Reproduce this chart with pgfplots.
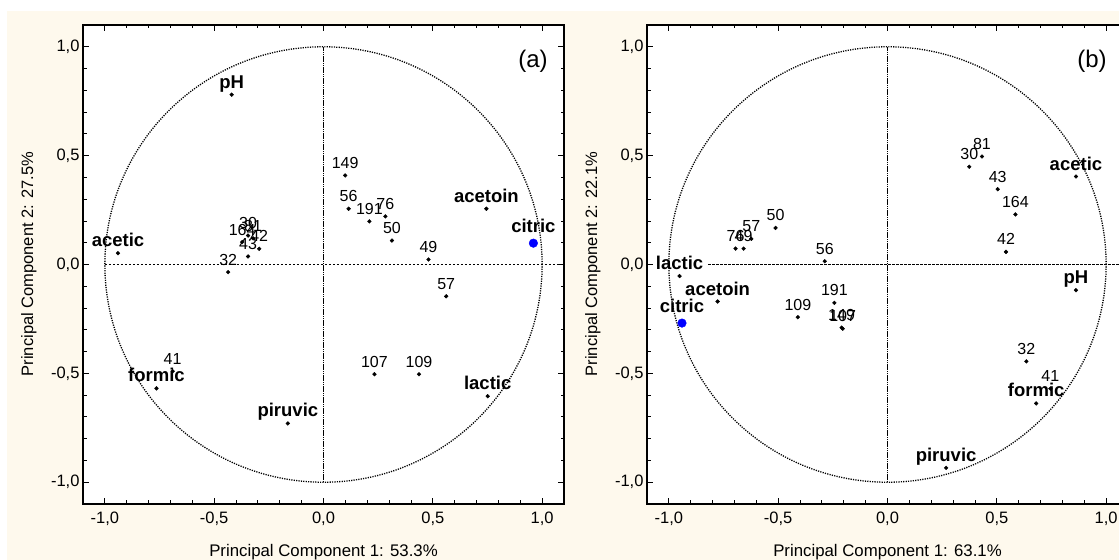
\documentclass[border=0pt]{standalone}
\usepackage{pgfplots}
\usepackage{pgfplotstable}
\pgfplotsset{compat=1.18}
\usepackage{fontspec}
\setmainfont{Liberation Sans}
\definecolor{cream}{RGB}{254,249,237}
\definecolor{pblue}{RGB}{0,0,255}

% ---------- panel (a) ----------
\pgfplotstableread{
x y label
-0.42 0.78 pH
-0.94 0.052 acetic
0.745 0.256 acetoin
0.751 -0.605 lactic
-0.764 -0.569 formic
-0.163 -0.73 piruvic
}\varsA
\pgfplotstableread{
x y label
0.96 0.098 citric
}\citA
\pgfplotstableread{
x y label
-0.372 0.103 164
-0.345 0.133 30
-0.322 0.120 81
-0.345 0.037 43
-0.294 0.072 42
-0.436 -0.035 32
0.099 0.409 149
0.115 0.256 56
0.21 0.198 191
0.283 0.221 76
0.313 0.110 50
0.48 0.023 49
0.561 -0.146 57
0.233 -0.504 107
0.437 -0.504 109
-0.69 -0.49 41
}\casesA

% ---------- panel (b) ----------
\pgfplotstableread{
x y label
-0.951 -0.053 lactic
-0.777 -0.17 acetoin
0.862 0.404 acetic
0.862 -0.118 pH
0.68 -0.638 formic
0.268 -0.934 piruvic
}\varsB
\pgfplotstableread{
x y label
-0.94 -0.269 citric
}\citB
\pgfplotstableread{
x y label
-0.695 0.073 76
-0.658 0.073 49
-0.623 0.118 57
-0.512 0.168 50
-0.287 0.015 56
-0.243 -0.176 191
-0.41 -0.242 109
-0.205 -0.295 107
-0.21 -0.29 149
0.374 0.449 30
0.432 0.496 81
0.504 0.346 43
0.585 0.23 164
0.542 0.058 42
0.635 -0.445 32
0.745 -0.57 41
}\casesB

\tikzset{
  vline/.style={line width=1.6bp, dash pattern=on 1.6bp off 0.6bp},
  hline/.style={line width=1.2bp, dash pattern=on 2.6bp off 1.4bp},
  ucirc/.style={line width=1.3bp, dash pattern=on 1.2bp off 1.2bp},
}

\pgfplotsset{
  pcastyle/.style={
    scale only axis, width=481bp, height=479bp,
    xmin=-1.1, xmax=1.1, ymin=-1.1, ymax=1.1,
    xtick={-1,-0.5,0,0.5,1}, ytick={-1,-0.5,0,0.5,1},
    xticklabels={{-1,0},{-0,5},{0,0},{0,5},{1,0}},
    yticklabels={{-1,0},{-0,5},{0,0},{0,5},{1,0}},
    minor tick num=4,
    tick align=inside,
    major tick length=6bp, minor tick length=3.5bp,
    every tick/.style={black, line width=0.9bp},
    axis line style={line width=1.4bp, black},
    axis background/.style={fill=white},
    tick label style={font=\fontsize{16.5bp}{18bp}\selectfont, black},
    xticklabel style={yshift=-4bp},
    clip=false,
  },
  varplot/.style={only marks, mark=*, mark size=1.9bp, mark options={black, draw=black, fill=black},
    nodes near coords, point meta=explicit symbolic,
    every node near coord/.append style={anchor=base, yshift=6.5bp, text=black,
      font=\fontsize{18.5bp}{20bp}\selectfont\bfseries}},
  citplot/.style={only marks, mark=*, mark size=4.3bp, mark options={draw=pblue, fill=pblue},
    nodes near coords, point meta=explicit symbolic,
    every node near coord/.append style={anchor=base, yshift=10.5bp, text=black,
      font=\fontsize{18.5bp}{20bp}\selectfont\bfseries}},
  caseplot/.style={only marks, mark=*, mark size=1.9bp, mark options={black, draw=black, fill=black},
    nodes near coords, point meta=explicit symbolic,
    every node near coord/.append style={anchor=base, yshift=7bp, text=black,
      font=\fontsize{16bp}{18bp}\selectfont}},
}

\begin{document}
\begin{tikzpicture}
\path[use as bounding box] (0bp,0bp) rectangle (1119bp,560bp);
\clip (0bp,0bp) rectangle (1119bp,560bp);
\fill[white] (0bp,0bp) rectangle (1119bp,560bp);
\fill[cream] (7bp,0bp) rectangle (1119bp,549bp);

% ----- (a) -----
\begin{axis}[pcastyle, at={(83bp,56bp)}, anchor=south west]
  \draw[vline] (axis cs:0,-1) -- (axis cs:0,1);
  \draw[hline] (axis cs:-1,0) -- (axis cs:1.1,0);
  \addplot[caseplot] table[x=x, y=y, meta=label] {\casesA};
  \addplot[varplot] table[x=x, y=y, meta=label] {\varsA};
  \addplot[citplot] table[x=x, y=y, meta=label] {\citA};
  \draw[ucirc] (axis cs:0,0) circle[radius=1];
\end{axis}

% ----- (b) -----
\begin{axis}[pcastyle, at={(647bp,56bp)}, anchor=south west]
  \draw[vline] (axis cs:0,-1) -- (axis cs:0,1);
  \draw[hline] (axis cs:-0.82,0) -- (axis cs:1.1,0);
  \addplot[caseplot] table[x=x, y=y, meta=label] {\casesB};
  \addplot[varplot] table[x=x, y=y, meta=label] {\varsB};
  \addplot[citplot] table[x=x, y=y, meta=label] {\citB};
  \draw[ucirc] (axis cs:0,0) circle[radius=1];
\end{axis}

% panel tags
\node[font=\fontsize{24bp}{26bp}\selectfont] at (533bp,499bp) {(a)};
\node[font=\fontsize{24bp}{26bp}\selectfont] at (1092bp,499bp) {(b)};

% axis titles
\node[font=\fontsize{16.8bp}{18bp}\selectfont, anchor=base] at (323.5bp,4bp) {Principal Component 1: 53.3\%};
\node[font=\fontsize{16.8bp}{18bp}\selectfont, anchor=base] at (887.5bp,4bp) {Principal Component 1: 63.1\%};
\node[font=\fontsize{16.5bp}{18bp}\selectfont, rotate=90, anchor=base] at (33bp,296bp) {Principal Component 2: 27.5\%};
\node[font=\fontsize{16.5bp}{18bp}\selectfont, rotate=90, anchor=base] at (597bp,296bp) {Principal Component 2: 22.1\%};
\end{tikzpicture}
\end{document}
